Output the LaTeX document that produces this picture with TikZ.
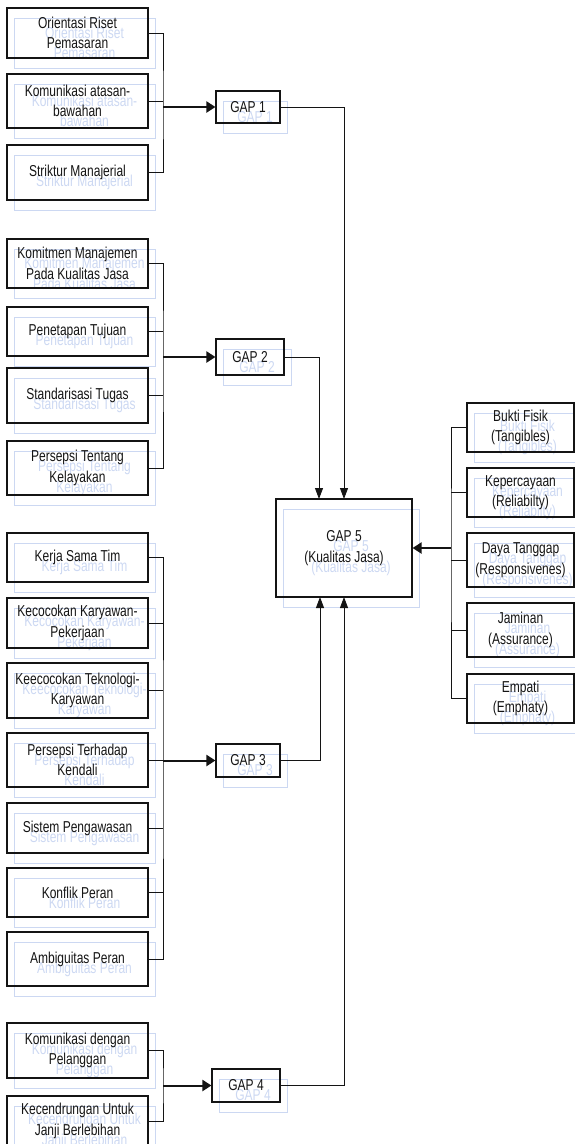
\documentclass[tikz,border=0pt]{standalone}
\usepackage{fontspec}
\setmainfont{Liberation Sans}[FakeStretch=0.76]
\usetikzlibrary{arrows.meta}
\definecolor{ink}{RGB}{20,20,20}
\definecolor{ghost}{RGB}{204,216,242}

\tikzset{
  boxfont/.style={font=\fontsize{15.8}{20.5}\selectfont},
  box/.style={boxfont, draw=ink, line width=1.1pt, rectangle, inner sep=0pt,
              align=center, text=ink},
  ghostframe/.style={draw=ghost, line width=0.8pt},
  ghosttext/.style={boxfont, text=ghost, align=center, inner sep=0pt},
  link/.style={draw=ink, line width=0.9pt},
  feed/.style={draw=ink, line width=2pt, -{Triangle[length=9pt,width=11pt]}},
  into/.style={draw=ink, line width=0.9pt, -{Triangle[length=11pt,width=8pt]}},
}

% #1 name, #2 left, #3 top, #4 right, #5 bottom, #6 text
\newcommand\blk[6]{%
  \draw[ghostframe] ({#2+7},{-(#3)-10}) rectangle ({#4+7},{-(#5)-10});
  \node[ghosttext] at ({(#2+#4)/2+7},{-(#3+#5)/2-10}) {#6};
  \node[box, minimum width={#4-#2}, minimum height={#5-#3}] (#1)
    at ({(#2+#4)/2},{-(#3+#5)/2}) {#6};
}

\begin{document}
\begin{tikzpicture}[x=1pt,y=1pt]
\useasboundingbox (0,0) rectangle (574,-1144);

% gap 1 factors
\blk{a1}{7}{8}{148}{58}{Orientasi Riset\\Pemasaran}
\blk{a2}{7}{74}{148}{128}{Komunikasi atasan-\\bawahan}
\blk{a3}{7}{145}{148}{200}{Striktur Manajerial}
% gap 2 factors
\blk{b1}{7}{239}{148}{288}{Komitmen Manajemen\\Pada Kualitas Jasa}
\blk{b2}{7}{307}{148}{356}{Penetapan Tujuan}
\blk{b3}{7}{368}{148}{423}{Standarisasi Tugas}
\blk{b4}{7}{441}{148}{495}{Persepsi Tentang\\Kelayakan}
% gap 3 factors
\blk{c1}{7}{533}{148}{582}{Kerja Sama Tim}
\blk{c2}{7}{598}{148}{648}{Kecocokan Karyawan-\\Pekerjaan}
\blk{c3}{7}{663}{148}{718}{Keecocokan Teknologi-\\Karyawan}
\blk{c4}{7}{733}{148}{787}{Persepsi Terhadap\\Kendali}
\blk{c5}{7}{803}{148}{853}{Sistem Pengawasan}
\blk{c6}{7}{868}{148}{917}{Konflik Peran}
\blk{c7}{7}{932}{148}{986}{Ambiguitas Peran}
% gap 4 factors
\blk{d1}{7}{1023}{148}{1078}{Komunikasi dengan\\Pelanggan}
\blk{d2}{7}{1096}{148}{1146}{Kecendrungan Untuk\\Janji Berlebihan}

% gaps
\blk{gap1}{216}{91}{280}{123}{GAP 1}
\blk{gap2}{216}{339}{284}{375}{GAP 2}
\blk{gap3}{216}{744}{280}{777}{GAP 3}
\blk{gap4}{212}{1069}{280}{1102}{GAP 4}
\blk{gap5}{276}{499}{412}{597}{GAP 5\\(Kualitas Jasa)}

% service quality dimensions
\blk{r1}{467}{403}{574}{452}{Bukti Fisik\\(Tangibles)}
\blk{r2}{467}{468}{574}{517}{Kepercayaan\\(Reliabilty)}
\blk{r3}{467}{533}{574}{587}{Daya Tanggap\\(Responsivenes)}
\blk{r4}{467}{603}{574}{657}{Jaminan\\(Assurance)}
\blk{r5}{467}{674}{574}{723}{Empati\\(Emphaty)}

% junction points of the collecting lines
\coordinate (j1) at (163,-107);
\coordinate (j2) at (163,-357);
\coordinate (j3) at (163,-760.5);
\coordinate (j4) at (163,-1085.5);
\coordinate (jr) at (451,-548);

% entry points on GAP 5
\coordinate (in1) at (344,-499);
\coordinate (in2) at (319,-499);
\coordinate (in3) at (320,-597);
\coordinate (in4) at (344,-597);

% group 1
\draw[link] (a1.east) -| (j1) |- (a3.east);
\draw[link] (a2.east) -- (a2.east -| j1);
\draw[feed] (j1) -- (gap1.west);
% group 2
\draw[link] (b1.east) -| (j2) |- (b4.east);
\draw[link] (b2.east) -- (b2.east -| j2);
\draw[link] (b3.east) -- (b3.east -| j2);
\draw[feed] (j2) -- (gap2.west);
% group 3
\draw[link] (c1.east) -| (j3) |- (c7.east);
\foreach \n in {c2,c3,c4,c5,c6}
  \draw[link] (\n.east) -- (\n.east -| j3);
\draw[feed] (j3) -- (gap3.west);
% group 4
\draw[link] (d1.east) -| (j4) |- (d2.east);
\draw[feed] (j4) -- (gap4.west);

% gaps into GAP 5
\draw[into] (gap1.east) -| (in1);
\draw[into] (gap2.east) -| (in2);
\draw[into] (gap3.east) -| (in3);
\draw[into] (gap4.east) -| (in4);

% dimensions into GAP 5
\draw[link] (r1.west) -| (jr) |- (r5.west);
\foreach \n in {r2,r3,r4}
  \draw[link] (\n.west) -- (\n.west -| jr);
\draw[feed] (jr) -- (gap5.east);
\end{tikzpicture}
\end{document}
